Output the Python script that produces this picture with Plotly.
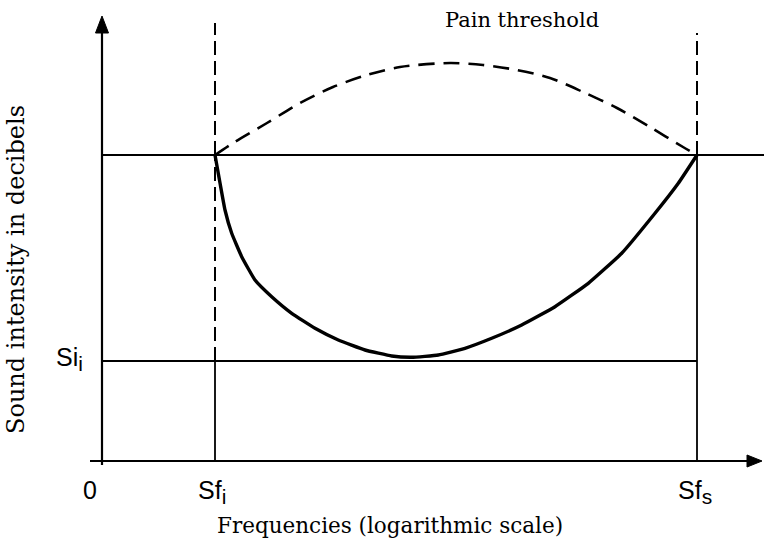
import plotly.graph_objects as go

# ---- data (arbitrary units: x = log-frequency position, y = intensity) ----
SF_I = 11.3        # lower frequency limit
SF_S = 59.5        # upper frequency limit
SI_I = 10.0        # minimum intensity threshold
UPPER_LEVEL = 30.6 # level where both curves meet

hearing_x = [11.3, 11.8, 12.3, 12.97, 13.97, 15.3, 16.97, 18.97, 21.3, 23.63, 26.3,
             28.97, 30.97, 33.63, 36.3, 38.97, 41.97, 45.3, 48.63, 51.97, 55.3, 57.63, 59.5]
hearing_y = [30.6, 27.8, 25.1, 22.77, 20.43, 18.1, 16.43, 14.77, 13.27, 12.1, 11.1,
             10.5, 10.37, 10.6, 11.27, 12.27, 13.6, 15.43, 17.77, 20.77, 24.77, 27.77, 30.6]

pain_x = [11.3, 13.1, 16.5, 19.8, 23.1, 26.5, 29.8, 34.8, 38.1, 41.5, 44.8,
          48.1, 51.5, 54.8, 58.1, 59.5]
pain_y = [30.6, 31.8, 33.8, 35.8, 37.4, 38.6, 39.4, 39.8, 39.6, 39.1, 38.3,
          36.9, 35.3, 33.4, 31.4, 30.6]

SUB = "<sub><span style='font-size:21px'>{}</span></sub>"
X_LABELS = ["0", "Sf" + SUB.format("i"), "Sf" + SUB.format("s")]
Y_LABEL = "Si" + SUB.format("i")

X_MIN, X_MAX = -10.2, 66.2
Y_MIN, Y_MAX = -8.0, 46.1
AXIS_TOP = 44.5
AXIS_RIGHT = 66.0

BLACK = "#000000"
fig = go.Figure()

def seg(xs, ys, width=2, dash="solid"):
    fig.add_trace(go.Scatter(x=xs, y=ys, mode="lines",
                             line=dict(color=BLACK, width=width, dash=dash),
                             hoverinfo="skip", showlegend=False))

# axes
seg([0, 0], [-0.4, AXIS_TOP - 1.5], width=2.2)
seg([-1.2, AXIS_RIGHT - 1.2], [0, 0], width=2.2)
# arrow heads
fig.add_trace(go.Scatter(x=[-0.65, 0.65, 0, -0.65], y=[AXIS_TOP - 1.7, AXIS_TOP - 1.7, AXIS_TOP, AXIS_TOP - 1.7],
                         mode="lines", fill="toself", fillcolor=BLACK,
                         line=dict(color=BLACK, width=1), hoverinfo="skip", showlegend=False))
fig.add_trace(go.Scatter(x=[AXIS_RIGHT - 1.5, AXIS_RIGHT - 1.5, AXIS_RIGHT, AXIS_RIGHT - 1.5], y=[0.6, -0.6, 0, 0.6],
                         mode="lines", fill="toself", fillcolor=BLACK,
                         line=dict(color=BLACK, width=1), hoverinfo="skip", showlegend=False))

# horizontal reference lines
seg([0, X_MAX], [UPPER_LEVEL, UPPER_LEVEL], width=1.8)
seg([0, SF_S], [SI_I, SI_I], width=1.8)

# vertical limits
seg([SF_I, SF_I], [UPPER_LEVEL, 43.8], width=2, dash="14px,6px")
seg([SF_I, SF_I], [SI_I, UPPER_LEVEL], width=2, dash="14px,6px")
seg([SF_I, SF_I], [0, SI_I], width=1.8)
seg([SF_S, SF_S], [UPPER_LEVEL, 42.8], width=2, dash="14px,6px")
seg([SF_S, SF_S], [0, UPPER_LEVEL], width=1.8)

# curves
fig.add_trace(go.Scatter(x=hearing_x, y=hearing_y, mode="lines",
                         line=dict(color=BLACK, width=3.4, shape="spline", smoothing=0.35),
                         hoverinfo="skip", showlegend=False))
fig.add_trace(go.Scatter(x=pain_x, y=pain_y, mode="lines",
                         line=dict(color=BLACK, width=2.6, dash="16px,9px", shape="spline", smoothing=0.8),
                         hoverinfo="skip", showlegend=False))

sans = dict(family="Liberation Sans, Arial, sans-serif", size=25, color=BLACK)
serif = dict(family="DejaVu Serif, serif", size=21, color=BLACK)
serif_x = dict(family="DejaVu Serif, serif", size=21.5, color=BLACK)
serif_y = dict(family="DejaVu Serif, serif", size=24, color=BLACK)

ann = [
    dict(x=-1.2, y=-2.9, text=X_LABELS[0], font=sans, xanchor="center", yanchor="middle"),
    dict(x=9.4, y=-3.1, text=X_LABELS[1], font=sans, xanchor="left", yanchor="middle"),
    dict(x=57.4, y=-3.1, text=X_LABELS[2], font=sans, xanchor="left", yanchor="middle"),
    dict(x=-4.8, y=10.2, text=Y_LABEL, font=sans, xanchor="left", yanchor="middle"),
    dict(x=42.0, y=44.1, text="Pain threshold", font=serif, xanchor="center", yanchor="middle"),
    dict(x=28.8, y=-6.4, text="Frequencies (logarithmic scale)", font=serif_x, xanchor="center", yanchor="middle"),
    dict(x=-8.6, y=19.1, text="Sound intensity in decibels", font=serif_y, textangle=-90,
         xanchor="center", yanchor="middle"),
]
for a in ann:
    a.update(showarrow=False, xref="x", yref="y")

fig.update_layout(
    width=764, height=541,
    margin=dict(l=0, r=0, t=0, b=0),
    paper_bgcolor="white", plot_bgcolor="white",
    xaxis=dict(range=[X_MIN, X_MAX], visible=False, fixedrange=True),
    yaxis=dict(range=[Y_MIN, Y_MAX], visible=False, fixedrange=True),
    annotations=ann,
)

fig.write_html("out.html", config={"displayModeBar": False},
               post_script="document.body.style.margin='0px';document.body.style.overflow='hidden';")
